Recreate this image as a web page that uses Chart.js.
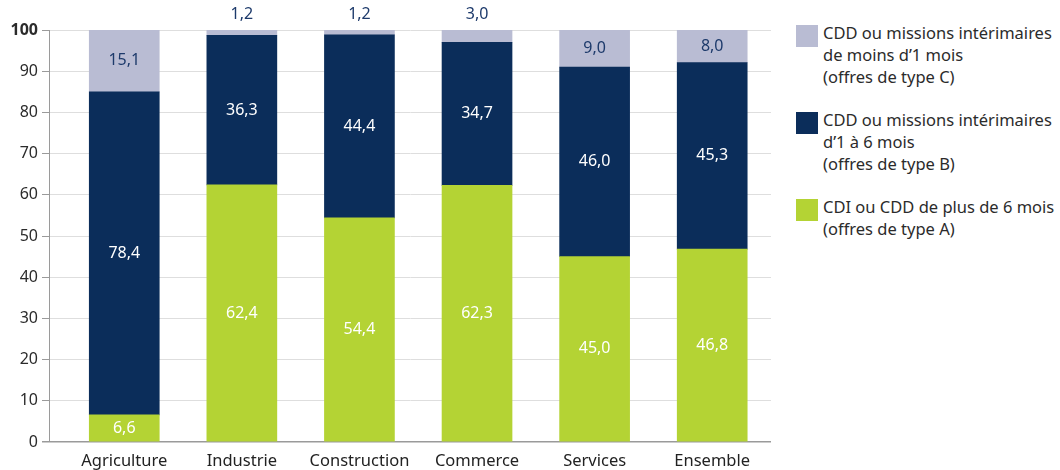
<!DOCTYPE html>
<html>
<head>
<meta charset="utf-8">
<script src="https://cdn.jsdelivr.net/npm/chart.js@4"></script>
<style>
  body { margin: 0; background: #fff; font-family: "Noto Sans", sans-serif; }
  #wrap { position: relative; width: 1060px; height: 470px; }
  #chart { position: absolute; left: 0; top: 0; }
  #legend { position: absolute; left: 796px; top: 22px; color: #2b2b2b; font-size: 16.5px; line-height: 22px; white-space: nowrap; }
  .item { position: relative; padding-left: 27px; margin-bottom: 21px; }
  .item .sw { position: absolute; left: 0; top: 3px; width: 22px; height: 22px; }
</style>
</head>
<body>
<div id="wrap">
  <canvas id="chart" width="785" height="470"></canvas>
  <div id="legend"></div>
</div>
<script>
var categories = ['Agriculture', 'Industrie', 'Construction', 'Commerce', 'Services', 'Ensemble'];
var typeA = [6.6, 62.4, 54.4, 62.3, 45.0, 46.8];
var typeB = [78.4, 36.3, 44.4, 34.7, 46.0, 45.3];
var typeC = [15.1, 1.2, 1.2, 3.0, 9.0, 8.0];
var yTicks = [0, 10, 20, 30, 40, 50, 60, 70, 80, 90, 100];

var seriesNames = [
  ['CDD ou missions intérimaires', 'de moins d\u20191 mois', '(offres de type C)'],
  ['CDD ou missions intérimaires', 'd\u20191 à 6 mois', '(offres de type B)'],
  ['CDI ou CDD de plus de 6 mois', '(offres de type A)']
];
var colors = ['#b9bcd3', '#0b2d5a', '#b4d334'];
var labelColors = ['#1d3a6b', '#ffffff', '#ffffff'];

// legend
var legendHtml = '';
seriesNames.forEach(function(lines, i) {
  legendHtml += '<div class="item"><span class="sw" style="background:' + colors[i] + '"></span>' + lines.join('<br>') + '</div>';
});
document.getElementById('legend').innerHTML = legendHtml;

function toPoints(arr) {
  return arr.map(function(v, i) { return { x: i, y: v }; });
}

var fmt = function(v) { return v.toFixed(1).replace('.', ','); };

// values written on the bars
var barLabels = {
  id: 'barLabels',
  afterDatasetsDraw: function(chart) {
    var ctx = chart.ctx;
    ctx.save();
    ctx.font = '16px "Noto Sans"';
    ctx.textAlign = 'center';
    ctx.textBaseline = 'middle';
    chart.data.datasets.forEach(function(ds, di) {
      var meta = chart.getDatasetMeta(di);
      meta.data.forEach(function(bar, i) {
        var v = ds.data[i].y;
        var top = Math.max(bar.y, chart.chartArea.top);
        var y = (top + bar.base) / 2;
        ctx.fillStyle = ds.labelColor;
        if (bar.base - top < 20) {
          y = chart.chartArea.top - 16;
        }
        ctx.fillText(fmt(v), bar.x, y);
      });
    });
    ctx.restore();
  }
};

new Chart(document.getElementById('chart'), {
  type: 'bar',
  data: {
    datasets: [
      { label: 'A', data: toPoints(typeA), backgroundColor: colors[2], labelColor: labelColors[2] },
      { label: 'B', data: toPoints(typeB), backgroundColor: colors[1], labelColor: labelColors[1] },
      { label: 'C', data: toPoints(typeC), backgroundColor: colors[0], labelColor: labelColors[0] }
    ]
  },
  options: {
    responsive: false,
    animation: false,
    layout: { padding: { top: 30, right: 14 } },
    datasets: { bar: { barThickness: 70, borderWidth: 0 } },
    plugins: { legend: { display: false }, tooltip: { enabled: false } },
    scales: {
      x: {
        type: 'linear',
        stacked: true,
        offset: false,
        min: -0.64,
        max: 5.5,
        afterBuildTicks: function(axis) {
          axis.ticks = categories.map(function(c, i) { return { value: i }; });
        },
        afterFit: function(axis) { axis.height = 28; },
        grid: { display: false },
        border: { display: false },
        ticks: {
          color: '#222',
          font: { family: 'Noto Sans', size: 16.5 },
          padding: 1,
          maxRotation: 0,
          callback: function(v) { return categories[v]; }
        }
      },
      y: {
        stacked: true,
        min: 0,
        max: 100,
        afterBuildTicks: function(axis) {
          axis.ticks = yTicks.map(function(v) { return { value: v }; });
        },
        afterFit: function(axis) { axis.width = 49; },
        border: { color: '#9a9a9a' },
        grid: {
          color: function(c) { return c.tick && c.tick.value === 0 ? '#9a9a9a' : '#dedede'; },
          lineWidth: function(c) { return c.tick && c.tick.value === 0 ? 1.5 : 1; },
          tickColor: '#9a9a9a',
          tickLength: 7
        },
        ticks: {
          color: '#2b2b2b',
          padding: 4,
          font: function(c) {
            return { family: 'Noto Sans', size: 16, weight: c.tick && c.tick.value === 100 ? 'bold' : 'normal' };
          }
        }
      }
    }
  },
  plugins: [barLabels]
});
</script>
</body>
</html>
